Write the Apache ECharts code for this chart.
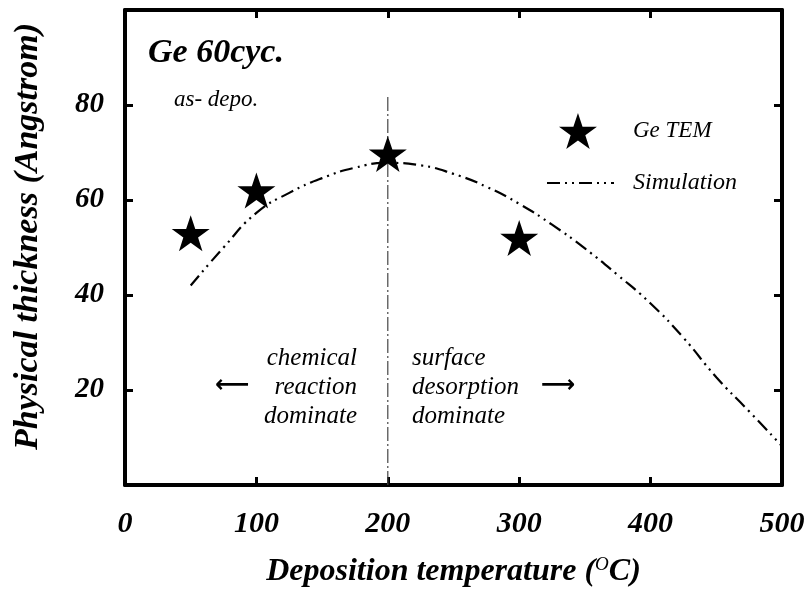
<!DOCTYPE html>
<html>
<head>
<meta charset="utf-8">
<script src="https://cdn.jsdelivr.net/npm/echarts@6/dist/echarts.min.js"></script>
<style>
  html, body { margin: 0; padding: 0; background: #fff; }
  #main { width: 810px; height: 596px; }
</style>
</head>
<body>
<div id="main"></div>
<script>
// measured stars (Ge TEM)
var temTemp = [50, 100, 200, 300];
var temThick = [53, 62, 69.7, 52];

// simulation curve
var simTemp = [50, 75, 100, 125, 150, 175, 200, 225, 250, 275, 300, 325, 350, 375, 400, 425, 450, 475, 500];
var simThick = [42, 50, 57.3, 61.5, 64.6, 66.8, 67.8, 67.3, 65.5, 62.8, 59.2, 54.8, 49.8, 44.2, 38.2, 31, 22.7, 15.5, 8.2];

// divider line at 200 C
var divTemp = [200, 200];
var divThick = [0, 82];

var xTicks = [0, 100, 200, 300, 400, 500];
var yTicks = [20, 40, 60, 80];

var serif = 'Liberation Serif';
var starPath = 'path://M50,0 L61.8,35.3 L99,35.3 L69,57.3 L80.3,93 L50,71 L19.7,93 L31,57.3 L1,35.3 L38.2,35.3 Z';

function zip(a, b) {
    var out = [];
    for (var i = 0; i < a.length; i++) out.push([a[i], b[i]]);
    return out;
}

var myChart = echarts.init(document.getElementById('main'));

var axisLine = { show: true, onZero: false, lineStyle: { color: '#000', width: 4 } };
var axisTick = { show: true, inside: true, length: 8, lineStyle: { color: '#000', width: 3 } };

var option = {
    backgroundColor: '#fff',
    animation: false,
    grid: { left: 125, right: 28, top: 10, bottom: 111 },
    legend: [
        {
            data: [{ name: 'Ge TEM', icon: starPath }],
            left: 554, top: 108,
            itemWidth: 38, itemHeight: 36,
            itemStyle: { color: '#000', opacity: 1 },
            textStyle: { fontFamily: serif, fontStyle: 'italic', fontSize: 23, color: '#000', padding: [0, 0, 0, 31] }
        },
        {
            data: ['Simulation'],
            left: 541, top: 166,
            itemWidth: 67, itemHeight: 20,
            itemStyle: { color: 'rgba(0,0,0,0)', borderWidth: 0 },
            textStyle: { fontFamily: serif, fontStyle: 'italic', fontSize: 24, color: '#000', padding: [0, 0, 0, 14] }
        }
    ],
    xAxis: [
        {
            type: 'value', min: 0, max: 500, interval: 100,
            axisLine: axisLine, axisTick: axisTick, splitLine: { show: false },
            axisLabel: {
                margin: 24, fontFamily: serif, fontStyle: 'italic', fontWeight: 'bold', fontSize: 30, color: '#000',
                formatter: function (v) { return xTicks.indexOf(v) >= 0 ? String(v) : ''; }
            },
            name: '{t|Deposition temperature (}{s|O}{t|C)}',
            nameLocation: 'middle', nameGap: 70,
            nameTextStyle: {
                rich: {
                    t: { fontFamily: serif, fontStyle: 'italic', fontWeight: 'bold', fontSize: 32, color: '#000' },
                    s: { fontFamily: serif, fontStyle: 'italic', fontSize: 19, color: '#000', verticalAlign: 'top', padding: [0, 0, 14, 0] }
                }
            }
        },
        {
            type: 'value', min: 0, max: 500, interval: 100, position: 'top',
            axisLine: axisLine, axisTick: axisTick, splitLine: { show: false }, axisLabel: { show: false }
        }
    ],
    yAxis: [
        {
            type: 'value', min: 0, max: 100, interval: 20,
            axisLine: axisLine, axisTick: axisTick, splitLine: { show: false },
            axisLabel: {
                margin: 21, fontFamily: serif, fontStyle: 'italic', fontWeight: 'bold', fontSize: 29, color: '#000',
                formatter: function (v) { return yTicks.indexOf(v) >= 0 ? String(v) : ''; }
            },
            name: 'Physical thickness (Angstrom)',
            nameLocation: 'middle', nameGap: 80,
            nameTextStyle: { fontFamily: serif, fontStyle: 'italic', fontWeight: 'bold', fontSize: 34, color: '#000', padding: [0, 0, 0, 22] }
        },
        {
            type: 'value', min: 0, max: 100, interval: 20, position: 'right',
            axisLine: axisLine, axisTick: axisTick, splitLine: { show: false }, axisLabel: { show: false }
        }
    ],
    series: [
        {
            name: 'divider', type: 'line', data: zip(divTemp, divThick),
            symbol: 'none', silent: true,
            lineStyle: { color: '#444', width: 1.2, type: [14, 3, 2, 3] }
        },
        {
            name: 'Simulation', type: 'line', data: zip(simTemp, simThick),
            smooth: true, symbol: 'none',
            itemStyle: { color: '#000' },
            lineStyle: { color: '#000', width: 2.2, type: [13, 5, 2, 5, 2, 5] }
        },
        {
            name: 'Ge TEM', type: 'scatter', data: zip(temTemp, temThick),
            symbol: starPath, symbolSize: [38, 36],
            itemStyle: { color: '#000', opacity: 1 }, z: 5
        }
    ],
    graphic: [
        { type: 'text', x: 148, y: 36, style: { text: 'Ge 60cyc.', font: 'italic bold 34px "Liberation Serif"', fill: '#000' } },
        { type: 'text', x: 174, y: 88, style: { text: 'as- depo.', font: 'italic 23px "Liberation Serif"', fill: '#000' } },
        { type: 'text', x: 357, y: 344, style: { text: 'chemical\nreaction\ndominate', font: 'italic 25px "Liberation Serif"', fill: '#000', align: 'right', lineHeight: 29 } },
        { type: 'text', x: 412, y: 344, style: { text: 'surface\ndesorption\ndominate', font: 'italic 25px "Liberation Serif"', fill: '#000', align: 'left', lineHeight: 29 } },
        { type: 'text', x: 215, y: 374, style: { text: '\u27f5', font: 'bold 24px "DejaVu Sans"', fill: '#000' } },
        { type: 'text', x: 541, y: 374, style: { text: '\u27f6', font: 'bold 24px "DejaVu Sans"', fill: '#000' } }
    ]
};

myChart.setOption(option);
</script>
</body>
</html>
